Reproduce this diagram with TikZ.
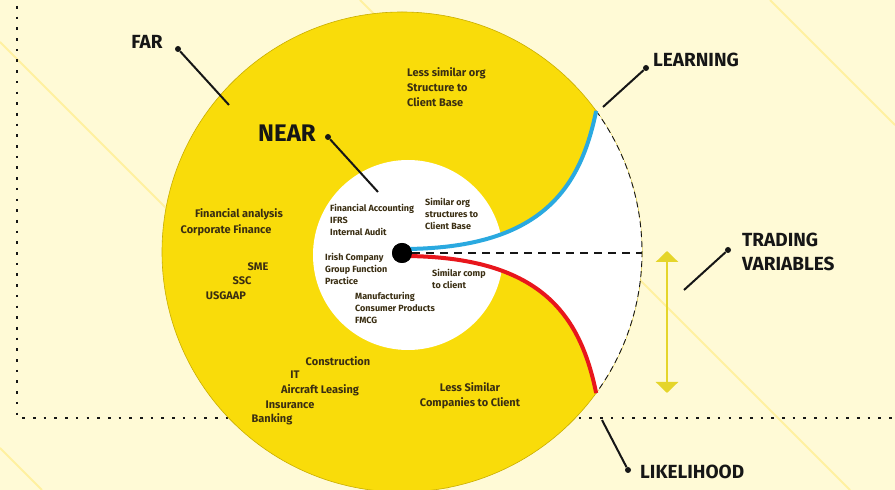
\documentclass[tikz,border=0pt]{standalone}
\usepackage{fontspec}
\setmainfont{Fira Sans}
\usetikzlibrary{arrows.meta}
\definecolor{bg}{HTML}{FFFAD6}
\definecolor{bgline}{HTML}{FFF1A0}
\definecolor{disc}{HTML}{F9DC0A}
\definecolor{discedge}{HTML}{C9AE00}
\definecolor{txt}{HTML}{3A2E12}
\definecolor{lab}{HTML}{161616}
\definecolor{bluec}{HTML}{2AA9E0}
\definecolor{redc}{HTML}{E8161C}
\definecolor{arrowyel}{HTML}{E5D52A}
\tikzset{
  small/.style={font=\bfseries\fontsize{11}{15}\selectfont, text=txt, inner sep=0pt, align=left},
  tiny/.style={font=\bfseries\fontsize{9}{12}\selectfont, text=txt, inner sep=0pt, align=left},
  biglab/.style={font=\bfseries\fontsize{19}{24}\selectfont, text=lab, inner sep=0pt, align=left},
  enddot/.style={circle, fill=lab, inner sep=0pt, minimum size=6pt},
  pointer/.style={draw=lab, line width=2pt},
  dotted line/.style={draw=lab, line width=2.6pt, dash pattern=on 2.6pt off 8.1pt},
  faint/.style={draw=bgline, line width=2pt}
}
\begin{document}
\begin{tikzpicture}[x=1pt,y=1pt]
\fill[bg] (0,0) rectangle (895,490);
\useasboundingbox (0,0) rectangle (895,490);
% faint background diagonals
\draw[faint] (0,448) -- (448,0);
\draw[faint] (360,490) -- (850,0);
\draw[faint] (770,490) -- (895,365);
\draw[faint] (0,42) -- (42,0);
% dotted frame lines
\coordinate (vtop) at (17,484);
\coordinate (corner) at (17,72);
\coordinate (hright) at (895,72);
\draw[dotted line] (vtop) -- (corner) -- (hright);
% main disc
\node (disc) [circle, fill=disc, draw=discedge, line width=0.6pt, minimum size=480pt, inner sep=0pt] at (402,238) {};
\node (inner) [circle, fill=white, minimum size=190pt, inner sep=0pt] at (408,235) {};
% white wedge
\coordinate (bstart) at (402,241);
\coordinate (rstart) at (402,234);
\coordinate (bend) at (596.16,379.07);
\coordinate (rend) at (596.16,96.93);
\fill[white] (bstart) .. controls (540,241) and (580,300) .. (bend)
  arc[start angle=36, end angle=-36, radius=240]
  .. controls (580,176) and (540,234) .. (rstart) -- cycle;
\draw[lab, line width=0.9pt, dash pattern=on 6pt off 4pt] (bend) arc[start angle=36, end angle=-36, radius=240];
\node (center) [circle, fill=black, minimum size=20pt, inner sep=0pt] at (402,237) {};
\coordinate (dashend) at (642,237);
\draw[lab, line width=1.2pt, dash pattern=on 8pt off 6pt] (center.east) -- (dashend);
\draw[bluec, line width=4pt] (bstart) .. controls (540,241) and (580,300) .. (bend);
\draw[redc, line width=4pt] (rstart) .. controls (540,234) and (580,176) .. (rend);
\fill[black] (center) circle (10pt);
% big labels with pointers
\node (far) [biglab] at (147,448) {FAR};
\node (fardot) [enddot] at (178,441) {};
\coordinate (farend) at (229,385);
\draw[pointer] (fardot) -- (farend);
\node (near) [biglab, font=\bfseries\fontsize{24}{28}\selectfont] at (287,357) {NEAR};
\node (neardot) [enddot] at (328,353) {};
\coordinate (nearend) at (378,298);
\draw[pointer] (neardot) -- (nearend);
\node (learning) [biglab, anchor=west] at (653,430) {LEARNING};
\node (learndot) [enddot] at (646,422) {};
\coordinate (learnend) at (603,383);
\draw[pointer] (learndot) -- (learnend);
\node (trading) [biglab, anchor=west] at (742,238) {TRADING\\VARIABLES};
\node (tradedot) [enddot] at (728,240) {};
\coordinate (tradeend) at (684,200);
\draw[pointer] (tradedot) -- (tradeend);
\node (likeli) [biglab, anchor=west] at (640,18) {LIKELIHOOD};
\node (likedot) [enddot] at (628,20) {};
\coordinate (likeend) at (602,70);
\draw[pointer] (likedot) -- (likeend);
% double arrow
\coordinate (arrtop) at (667,239);
\coordinate (arrbot) at (667,97);
\draw[arrowyel, line width=2.6pt, {Triangle[width=22pt,length=11pt]}-{Triangle[width=22pt,length=11pt]}] (arrtop) -- (arrbot);
% texts in the yellow ring
\node (lessorg) [small, anchor=west] at (407,403) {Less similar org\\Structure to\\Client Base};
\node (finan) [small] at (239,276) {Financial analysis};
\node (corp) [small] at (226,260) {Corporate Finance};
\node (sme) [small] at (258,223) {SME};
\node (ssc) [small] at (242,209) {SSC};
\node (usgaap) [small] at (226,194) {USGAAP};
\node (constr) [small] at (338,129) {Construction};
\node (it) [small] at (295,115) {IT};
\node (aircraft) [small] at (320,100) {Aircraft Leasing};
\node (insur) [small] at (290,85) {Insurance};
\node (banking) [small] at (272,71) {Banking};
\node (lesssim) [small] at (470,103) {Less Similar};
\node (compcl) [small] at (470,87) {Companies to Client};
% texts in the white centre
\node (finacc) [tiny, anchor=west] at (330,270) {Financial Accounting\\IFRS\\Internal Audit};
\node (simorg) [tiny, anchor=west] at (425,276) {Similar org\\structures to\\Client Base};
\node (irish) [tiny, anchor=west] at (325,221) {Irish Company\\Group Function\\Practice};
\node (simcomp) [tiny, anchor=west] at (432,211) {Similar comp\\to client};
\node (manuf) [tiny, anchor=west] at (355,182) {Manufacturing\\Consumer Products\\FMCG};
\end{tikzpicture}
\end{document}
